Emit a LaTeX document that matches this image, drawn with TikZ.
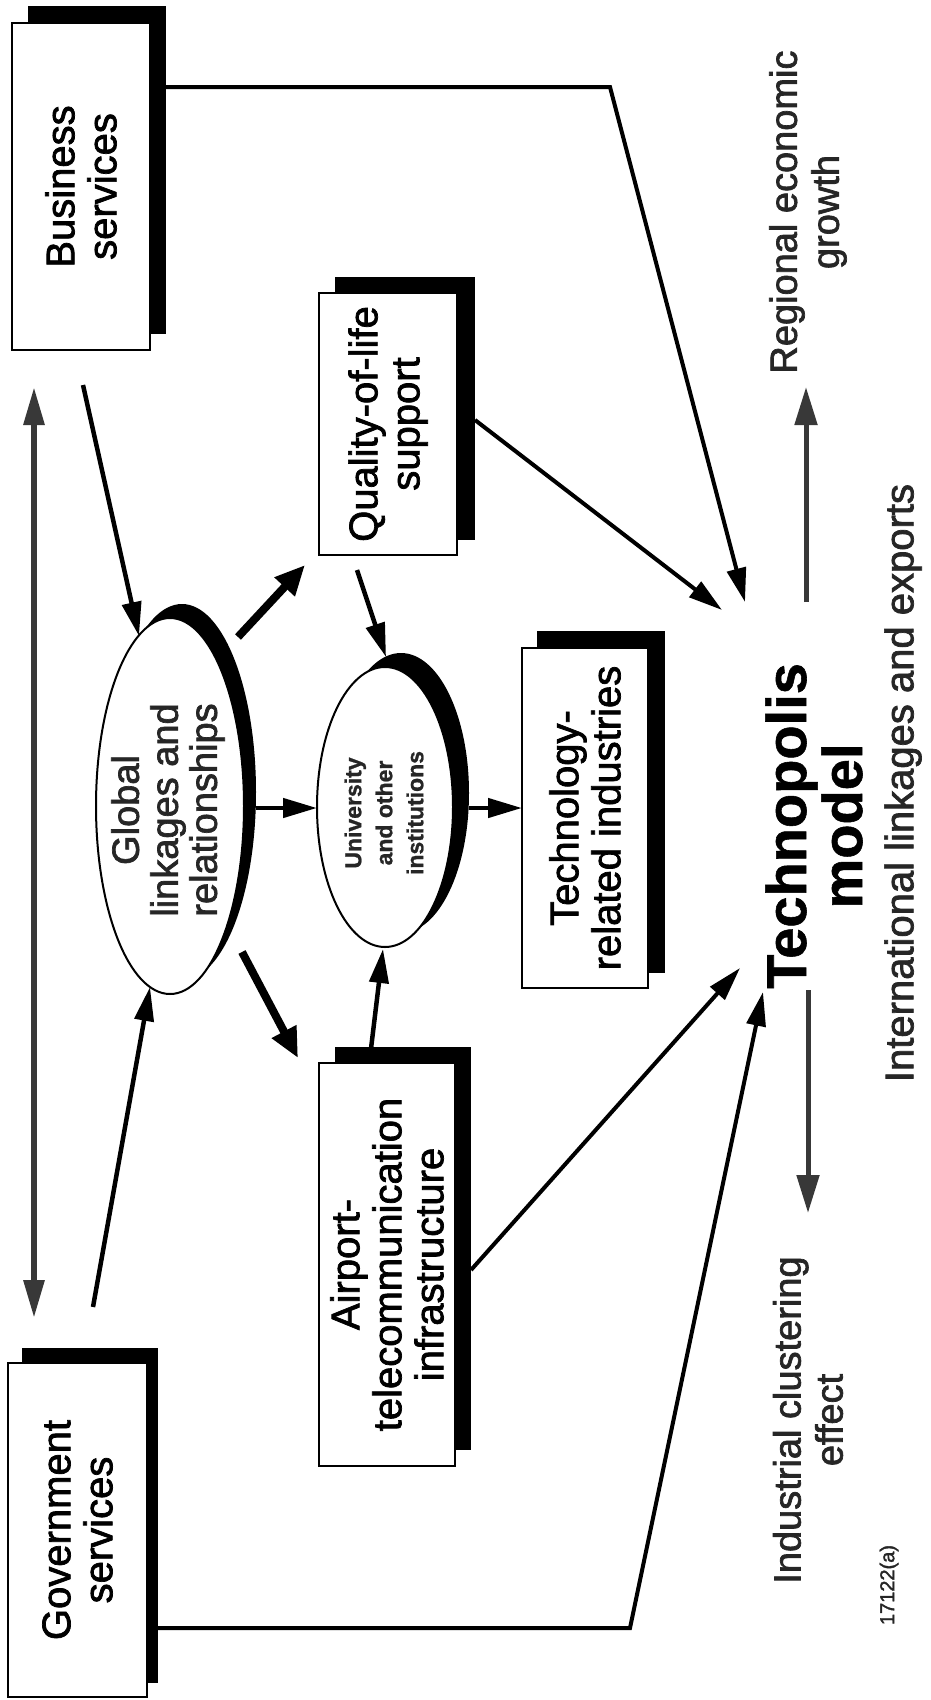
\documentclass[tikz,border=0pt]{standalone}
\usepackage{fontspec}
\setmainfont{Liberation Sans}[UprightFeatures={FakeBold=1.8},BoldFeatures={FakeBold=1}]
\usetikzlibrary{arrows.meta,shapes.geometric}
\definecolor{ink}{HTML}{262626}
\definecolor{arrowgray}{HTML}{383838}
\begin{document}
\begin{tikzpicture}[x=1pt,y=-1pt,
  txt/.style={font=\fontsize{40}{42}\selectfont},
  box/.style={txt, draw=black, line width=2pt, fill=white, rotate=90,
              inner sep=0pt, outer sep=0pt, align=center},
  drop/.style={fill=black},
  oval/.style={ellipse, draw=black, line width=2pt, fill=white, rotate=90,
               inner sep=0pt, outer sep=0pt},
  lbl/.style={rotate=90, align=center, inner sep=0pt, text=ink},
  conn/.style={line width=4.5pt, -{Triangle[length=34pt,width=19pt]}},
  heavy/.style={line width=8pt, -{Triangle[length=30pt,width=26pt]}},
  feed/.style={line width=4pt, line join=miter, -{Triangle[length=34pt,width=19pt]}},
  outflow/.style={line width=5pt, draw=arrowgray, -{Triangle[length=38pt,width=22pt]}},
  both/.style={line width=6pt, draw=arrowgray,
               {Triangle[length=38pt,width=20pt]}-{Triangle[length=38pt,width=20pt]}},
]
\useasboundingbox (0,0) rectangle (930,1700);

% ---- boxes with drop shadows ----
\fill[drop] (28,6) rectangle (166,334);
\node[box, minimum width=327pt, minimum height=138pt] (bus) at (81,186.5) {Business\\services};

\fill[drop] (22,1348) rectangle (158,1683);
\node[box, minimum width=334pt, minimum height=139pt] (gov) at (77.5,1530) {Government\\services};

\fill[drop] (335,277) rectangle (475,540);
\node[box, minimum width=262pt, minimum height=138pt] (qual) at (388,424) {Quality-of-life\\support};

\fill[drop] (335,1047) rectangle (471,1450);
\node[box, minimum width=403pt, minimum height=136pt] (air) at (387,1264.5) {Airport-\\telecommunication\\infrastructure};

\fill[drop] (537,631) rectangle (665,973);
\node[box, minimum width=340pt, minimum height=126pt] (tind) at (585,818) {Technology-\\related industries};

% ---- ellipses with drop shadows ----
\fill[drop] (182,792) ellipse [x radius=74, y radius=188];
\node[oval, minimum width=376pt, minimum height=148pt] (glob) at (170,806) {};
\node[lbl, font=\fontsize{38}{39}\selectfont] (globtxt) at (168,810) {Global\\linkages and\\relationships};

\fill[drop] (401,793) ellipse [x radius=68, y radius=140];
\node[oval, minimum width=280pt, minimum height=136pt] (uni) at (385,807) {};
\node[lbl, font=\bfseries\fontsize{23}{31}\selectfont] (unitxt) at (384,813) {University\\and other\\institutions};

% ---- right-hand labels ----
\node[lbl, font=\bfseries\fontsize{56}{56}\selectfont, text=black] (techno) at (814,826) {Technopolis\\model};
\node[lbl, font=\fontsize{38}{42}\selectfont] (reg) at (808,212) {Regional economic\\growth};
\node[lbl, font=\fontsize{38}{42}\selectfont] (ind) at (808,1420) {Industrial clustering\\effect};
\node[lbl, txt] (intl) at (903,783) {International linkages and exports};
\node[lbl, font=\fontsize{20}{20}\selectfont] (code) at (889,1585) {17122(a)};

% ---- connector end points ----
\coordinate (dblTop) at (34,387);
\coordinate (dblBot) at (34,1318);
\coordinate (busFoot) at (83,385);
\coordinate (globTop) at (139,636);
\coordinate (govHead) at (93,1307);
\coordinate (globFoot) at (150,987);
\coordinate (globRight) at (256,808);
\coordinate (uniLeft) at (317,808);
\coordinate (uniRight) at (469,808);
\coordinate (tindLeft) at (522,808);
\coordinate (globNE) at (238,637);
\coordinate (qualFoot) at (305,565);
\coordinate (globSE) at (242,952);
\coordinate (airHead) at (298,1058);
\coordinate (qualBase) at (357,570);
\coordinate (uniTop) at (386,657);
\coordinate (airTop) at (370,1057);
\coordinate (uniFoot) at (383,949);
\coordinate (busOut) at (166,87);
\coordinate (busBend) at (610,87);
\coordinate (techA) at (745,602);
\coordinate (qualOut) at (475,420);
\coordinate (techB) at (722,610);
\coordinate (airOut) at (471,1270);
\coordinate (techC) at (740,968);
\coordinate (govOut) at (158,1628);
\coordinate (govBend) at (630,1628);
\coordinate (techD) at (763,992);
\coordinate (techUp) at (806,602);
\coordinate (regIn) at (806,387);
\coordinate (techDown) at (808,990);
\coordinate (indIn) at (808,1213);

% ---- connectors ----
\draw[both] (dblTop) -- (dblBot);
\draw[conn] (busFoot) -- (globTop);
\draw[conn] (govHead) -- (globFoot);
\draw[conn] (globRight) -- (uniLeft);
\draw[conn] (uniRight) -- (tindLeft);
\draw[heavy] (globNE) -- (qualFoot);
\draw[heavy] (globSE) -- (airHead);
\draw[conn] (qualBase) -- (uniTop);
\draw[conn] (airTop) -- (uniFoot);

\draw[feed] (busOut) -- (busBend) -- (techA);
\draw[feed] (qualOut) -- (techB);
\draw[feed] (airOut) -- (techC);
\draw[feed] (govOut) -- (govBend) -- (techD);

\draw[outflow] (techUp) -- (regIn);
\draw[outflow] (techDown) -- (indIn);
\end{tikzpicture}
\end{document}
